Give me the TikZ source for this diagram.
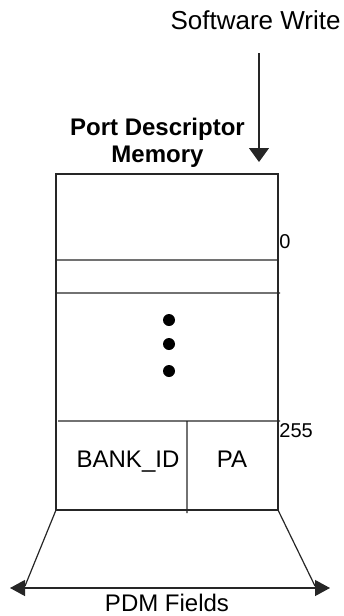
\documentclass[tikz,border=0pt]{standalone}
\usepackage{fontspec}
\setmainfont{Liberation Sans}
\usetikzlibrary{arrows.meta,positioning}

\begin{document}
\begin{tikzpicture}[
  x=0.5pt,y=-0.5pt,
  txt/.style={inner sep=0pt,font=\fontsize{12}{13.5}\selectfont},
  addr/.style={inner sep=0pt,font=\fontsize{10}{12}\selectfont},
  ]
  \tikzset{%
    wline/.style={
      line width=0.6pt,
      draw=black!85,
    },
    swarrow/.style={-{Triangle[length=7pt,width=10pt]}},
    fieldarrow/.style={{Triangle[length=7.5pt,width=8pt]}-{Triangle[length=7.5pt,width=8pt]}},
  }
  \useasboundingbox (0,0) rectangle (343,616);
  %Nodes
  \node[txt,font=\fontsize{13}{15}\selectfont,anchor=base east](sw) at (341,29){Software Write};
  \node[txt,font=\bfseries\fontsize{12}{13.5}\selectfont,align=center](pdm) at (157.5,142.5){Port Descriptor\\Memory};
  \coordinate (swtop) at (259,53);
  \coordinate (swtip) at (259,162);
  % memory box
  \coordinate (mtl) at (56,174);
  \coordinate (mbr) at (278,510);
  \coordinate (r0l) at (56,260);  \coordinate (r0r) at (278,260);
  \coordinate (r1l) at (56,293);  \coordinate (r1r) at (280,293);
  \coordinate (r2l) at (58,421);  \coordinate (r2r) at (280,421);
  \coordinate (divt) at (187,421); \coordinate (divb) at (187,513);
  \node[addr,anchor=west](a0) at (279,242){0};
  \node[addr,anchor=west](a255) at (279,431){255};
  \node[txt,anchor=base](bank) at (128,467){BANK\_ID};
  \node[txt,anchor=base](pa) at (232,467){PA};
  % fields
  \coordinate (mbl) at (56,510);
  \coordinate (mbrr) at (278,510);
  \coordinate (fl) at (25,586);
  \coordinate (fr) at (315,586);
  \coordinate (al) at (10,588);
  \coordinate (ar) at (330,588);
  \node[txt,anchor=base](fields) at (167,611){PDM Fields};
  %Lines
  \draw[wline] (mtl) rectangle (mbr);
  \draw[wline]
    (r0l) -- (r0r)
    (r1l) -- (r1r)
    (r2l) -- (r2r)
    (divt) -- (divb)
    (mbl) -- (fl)
    (mbrr) -- (fr)
    ;
  \draw[wline,swarrow] (swtop) -- (swtip);
  \draw[wline,fieldarrow] (al) -- (ar);
  % dots
  \foreach \y in {320,344,371}
    \fill (169,\y) circle (3pt);
\end{tikzpicture}
\end{document}
